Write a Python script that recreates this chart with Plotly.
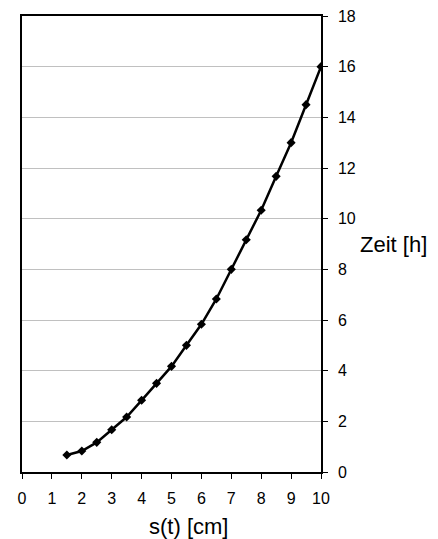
import plotly.graph_objects as go

s_cm = [1.5, 2, 2.5, 3, 3.5, 4, 4.5, 5, 5.5, 6, 6.5, 7, 7.5, 8, 8.5, 9, 9.5, 10]
zeit_h = [0.67, 0.83, 1.17, 1.67, 2.17, 2.83, 3.5, 4.17, 5.0, 5.83, 6.83, 8.0,
          9.17, 10.33, 11.67, 13.0, 14.5, 16.0]
x_ticks = list(range(0, 11))
y_ticks = list(range(0, 19, 2))

# page body adds an 8px offset; plot area targeted at x 22..321, y 16..472 on screen
OFF = 8
L, R, T, B = 22 - OFF, 321 - OFF, 16 - OFF, 472 - OFF
W, H = 438, 539

fig = go.Figure()
fig.add_trace(go.Scatter(
    x=s_cm, y=zeit_h, mode="lines+markers",
    line=dict(color="black", width=2.5),
    marker=dict(symbol="diamond", size=7, color="black"),
    showlegend=False,
))

font = dict(family="Liberation Sans, Arial, sans-serif", color="black")

fig.update_layout(
    width=W, height=H,
    margin=dict(l=L, r=W - R, t=T, b=H - B),
    paper_bgcolor="white", plot_bgcolor="white",
    font=dict(size=16, **font),
    xaxis=dict(range=[0, 10], tickvals=x_ticks, ticks="outside", ticklen=5,
               tickcolor="black", showline=True, linecolor="black", linewidth=1.5,
               mirror=True, showgrid=False, zeroline=False, automargin=False,
               ticklabelstandoff=6, ticklabeloverflow="allow",
               tickfont=dict(size=16, **font)),
    yaxis=dict(range=[0, 18], tickvals=y_ticks, side="right", ticks="outside",
               ticklen=5, tickcolor="black", showline=True, linecolor="black",
               linewidth=1.5, mirror=True, showgrid=True, gridcolor="#c0c0c0",
               gridwidth=1, zeroline=False, ticklabelstandoff=7, automargin=False,
               ticklabeloverflow="allow", tickfont=dict(size=16, **font)),
    annotations=[
        dict(text="s(t) [cm]", xref="paper", yref="paper",
             x=(188.5 - OFF - L) / (R - L),
             y=-(526 - OFF - B) / (B - T), xanchor="center", yanchor="middle",
             showarrow=False, font=dict(size=22, **font)),
        dict(text="Zeit [h]", xref="paper", yref="paper",
             x=(358 - OFF - L) / (R - L),
             y=(B - (244 - OFF)) / (B - T), xanchor="left", yanchor="middle",
             showarrow=False, font=dict(size=22, **font)),
    ],
)

fig.write_html("out.html")
